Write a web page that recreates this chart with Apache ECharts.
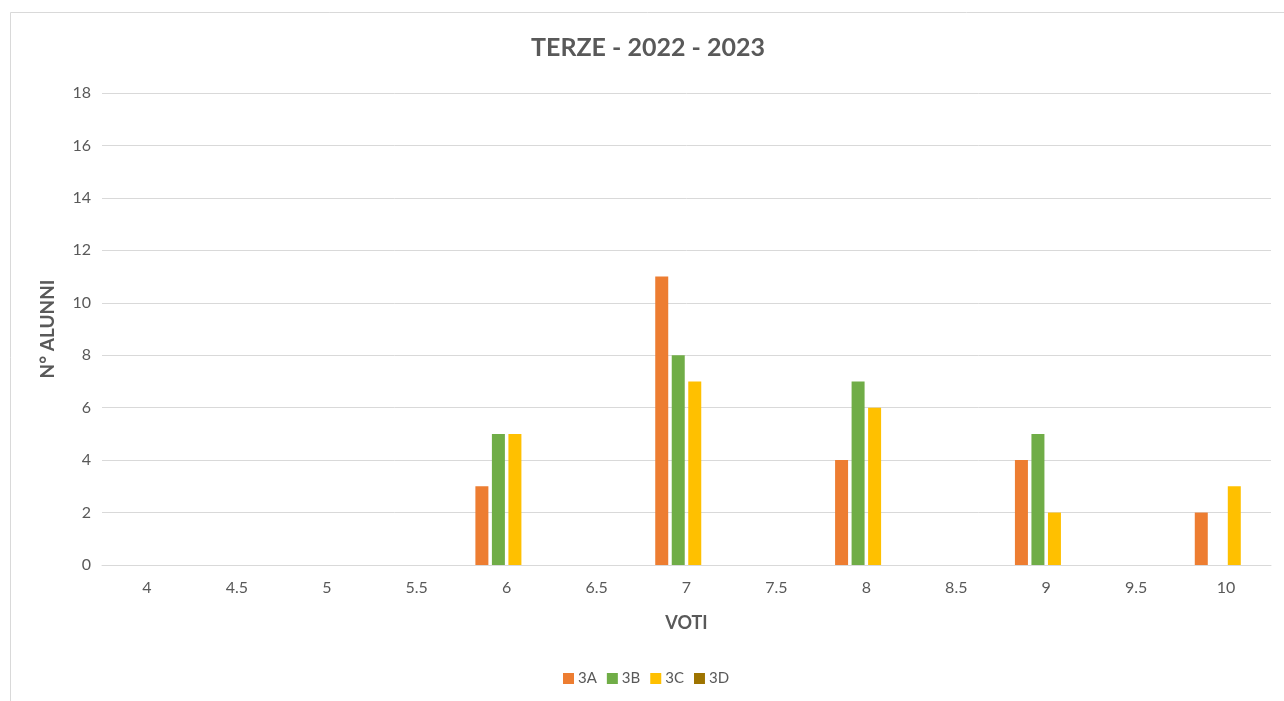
<!DOCTYPE html>
<html>
<head>
<meta charset="utf-8">
<title>TERZE - 2022 - 2023</title>
<script src="https://cdn.jsdelivr.net/npm/echarts@6/dist/echarts.min.js"></script>
<style>
  html, body { margin: 0; padding: 0; background: #ffffff; }
  #chart { width: 1284px; height: 701px; }
</style>
</head>
<body>
<div id="chart"></div>
<script>
// Grades (voti) on the x axis
const voti = ['4', '4.5', '5', '5.5', '6', '6.5', '7', '7.5', '8', '8.5', '9', '9.5', '10'];
// Number of students per grade, one array per class
const classe3A = [0, 0, 0, 0, 3, 0, 11, 0, 4, 0, 4, 0, 2];
const classe3B = [0, 0, 0, 0, 5, 0, 8, 0, 7, 0, 5, 0, 0];
const classe3C = [0, 0, 0, 0, 5, 0, 7, 0, 6, 0, 2, 0, 3];
const classe3D = [0, 0, 0, 0, 0, 0, 0, 0, 0, 0, 0, 0, 0];

const FONT = 'Lato, "Open Sans", sans-serif';
const TEXT = '#595959';

const chart = echarts.init(document.getElementById('chart'), null, { renderer: 'canvas' });

function barSeries(name, data, color) {
  return {
    name: name,
    type: 'bar',
    data: data,
    barWidth: 13,
    barGap: '27%',
    itemStyle: { color: color },
    emphasis: { disabled: true }
  };
}

chart.setOption({
  animation: false,
  backgroundColor: '#ffffff',
  graphic: [{
    type: 'rect',
    shape: { x: 10.5, y: 12.5, width: 1290, height: 700 },
    style: { fill: 'none', stroke: '#d9d9d9', lineWidth: 1 },
    silent: true,
    z: -1
  }],
  title: {
    text: 'TERZE - 2022 - 2023',
    left: 531,
    top: 35,
    padding: 0,
    textStyle: { fontFamily: FONT, fontSize: 25, fontWeight: 'bold', color: TEXT }
  },
  legend: {
    bottom: 15,
    left: 563,
    padding: 0,
    itemWidth: 11,
    itemHeight: 11,
    itemGap: 10,
    icon: 'rect',
    textStyle: { fontFamily: FONT, fontSize: 15, color: TEXT, padding: [0, 0, 0, -1] },
    data: ['3A', '3B', '3C', '3D']
  },
  grid: { left: 102, right: 13, top: 93, bottom: 136, containLabel: false },
  xAxis: {
    type: 'category',
    data: voti,
    name: 'VOTI',
    nameLocation: 'middle',
    nameGap: 49,
    nameTextStyle: { fontFamily: FONT, fontSize: 18, fontWeight: 'bold', color: TEXT },
    axisLine: { lineStyle: { color: '#d9d9d9', width: 1 } },
    axisTick: { show: false },
    axisLabel: { fontFamily: FONT, fontSize: 16, color: TEXT, margin: 15 }
  },
  yAxis: {
    type: 'value',
    min: 0,
    max: 18,
    interval: 2,
    name: 'N° ALUNNI',
    nameLocation: 'middle',
    nameGap: 45,
    nameRotate: 90,
    nameTextStyle: { fontFamily: FONT, fontSize: 19, fontWeight: 'bold', color: TEXT },
    axisLine: { show: false },
    axisTick: { show: false },
    axisLabel: { fontFamily: FONT, fontSize: 16, color: TEXT, margin: 11 },
    splitLine: { lineStyle: { color: '#d9d9d9', width: 1 } }
  },
  series: [
    barSeries('3A', classe3A, '#ED7D31'),
    barSeries('3B', classe3B, '#70AD47'),
    barSeries('3C', classe3C, '#FFC000'),
    barSeries('3D', classe3D, '#9E7400')
  ]
});
</script>
</body>
</html>
